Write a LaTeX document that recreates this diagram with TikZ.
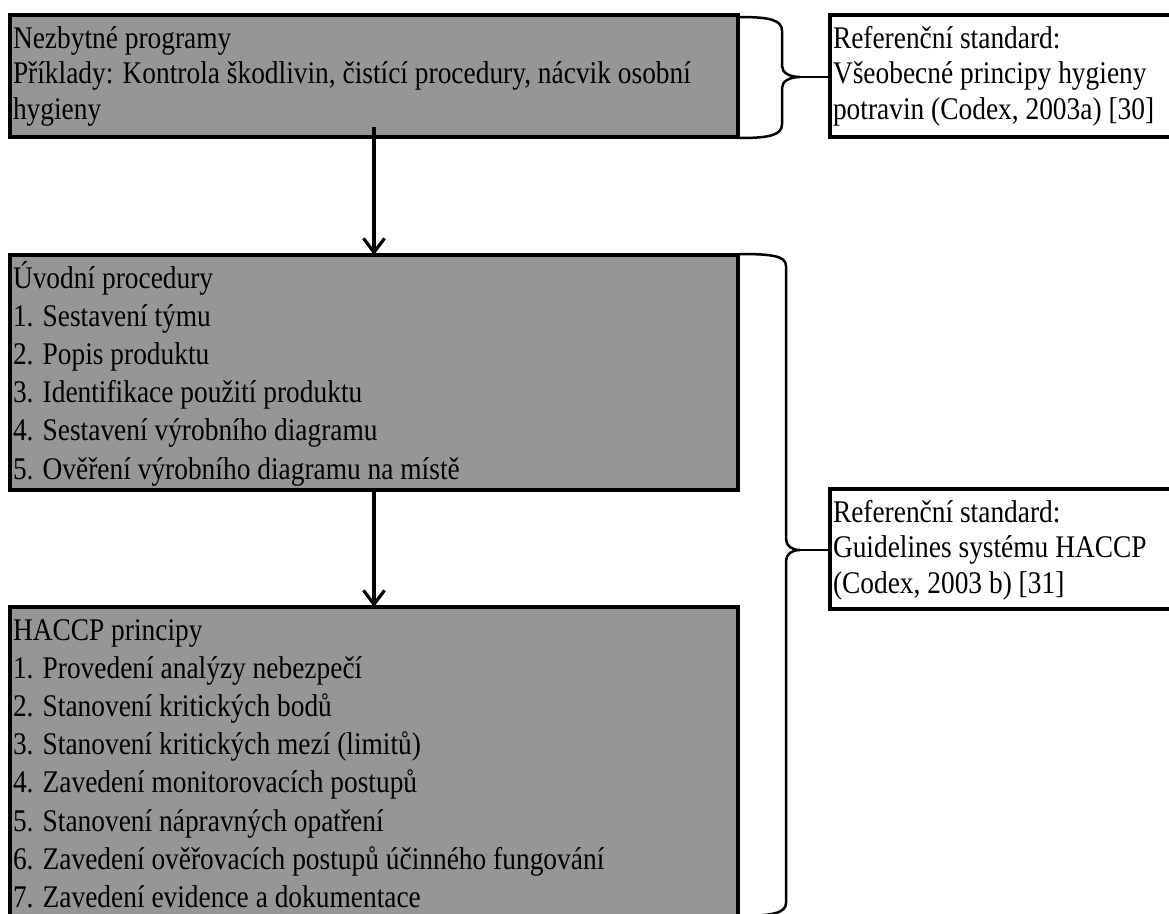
\documentclass[tikz,border=0pt]{standalone}
\usepackage{fontspec}
\setmainfont[FakeStretch=0.87]{Liberation Serif}
\usepackage{tikz}
\usetikzlibrary{arrows.meta}
\definecolor{stagegray}{RGB}{150,150,150}
\newcommand{\stagetext}[3]{\parbox[c][#2][t]{#1}{\raggedright\rule{0pt}{33bp}#3}}

\begin{document}
\begin{tikzpicture}[x=1bp, y=-1bp,
  tight/.style={font=\fontsize{31.5bp}{35.5bp}\selectfont},
  loose/.style={font=\fontsize{31.5bp}{38.2bp}\selectfont},
  stage/.style={draw, line width=3.2bp, fill=stagegray, anchor=north west, inner xsep=3bp, inner ysep=0pt, outer sep=0pt, tight},
  refbox/.style={stage, fill=white},
  flow/.style={line width=3.2bp, -{Straight Barb[length=14bp,width=21bp]}},
  bracket/.style={line width=2.5bp}]
  \useasboundingbox (0,0) rectangle (1169,914);

  \node[stage] (prog) at (10,15) {\stagetext{722bp}{122bp}{Nezbytné programy\\Příklady: Kontrola škodlivin, čistící procedury, nácvik osobní\\hygieny}};
  \node[stage, loose] (intro) at (10,255) {\stagetext{722bp}{235bp}{Úvodní procedury\\1. Sestavení týmu\\2. Popis produktu\\3. Identifikace použití produktu\\4. Sestavení výrobního diagramu\\5. Ověření výrobního diagramu na místě}};
  \node[stage, loose] (haccp) at (10,607) {\stagetext{722bp}{400bp}{HACCP principy\\1. Provedení analýzy nebezpečí\\2. Stanovení kritických bodů\\3. Stanovení kritických mezí (limitů)\\4. Zavedení monitorovacích postupů\\5. Stanovení nápravných opatření\\6. Zavedení ověřovacích postupů účinného fungování\\7. Zavedení evidence a dokumentace}};

  \node[refbox] (ref1) at (830,15) {\stagetext{360bp}{122bp}{Referenční standard:\\Všeobecné principy hygieny\\potravin (Codex, 2003a) [30]}};
  \node[refbox] (ref2) at (830,489) {\stagetext{360bp}{120bp}{Referenční standard:\\Guidelines systému HACCP\\(Codex, 2003 b) [31]}};

  \draw[flow] ([yshift=10bp]prog.south) -- (intro.north);
  \draw[flow] (intro.south) -- (haccp.north);

  \draw[bracket] ([shift={(2,2)}]prog.north east) .. controls +(30,0) and +(0,-11) .. ++(42,14)
    -- ++(0,35) .. controls +(0,7) and +(-10,0) .. ++(18,11) coordinate (tip1)
    .. controls +(-10,0) and +(0,-7) .. ++(-18,11) -- ++(0,36)
    .. controls +(0,11) and +(30,0) .. ++(-42,14);
  \draw[bracket] (tip1) -- (tip1 -| ref1.west);

  \draw[bracket] ([shift={(2,-1)}]intro.north east) .. controls +(32,0) and +(0,-10) .. ++(46,12)
    -- ++(0,273) .. controls +(0,7) and +(-8,0) .. ++(14,11) coordinate (tip2)
    .. controls +(-8,0) and +(0,-7) .. ++(-14,11) -- ++(0,342)
    .. controls +(0,10) and +(32,0) .. ++(-46,13);
  \draw[bracket] (tip2) -- (tip2 -| ref2.west);
\end{tikzpicture}
\end{document}
